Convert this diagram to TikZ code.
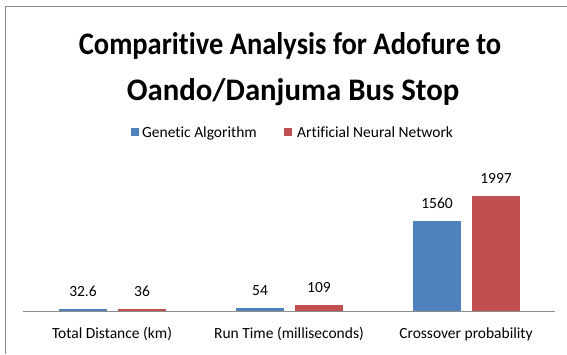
\documentclass[tikz,border=0pt]{standalone}
\usepackage{fontspec}
\setmainfont{Carlito}[Ligatures=NoCommon]
\usepackage{graphicx}
\usepackage{tikz}
\definecolor{gaBlue}{HTML}{4F81BD}
\definecolor{annRed}{HTML}{C0504D}
\definecolor{frameGray}{HTML}{8C8C8C}

\begin{document}
\begin{tikzpicture}[x=1pt, y=-1pt,
        lbl/.style={anchor=base, inner sep=0pt, font=\fontsize{15.5}{18}\selectfont},
        ttl/.style={anchor=base, inner sep=0pt, font=\fontsize{28.5}{34}\selectfont\bfseries},
        keybox/.style={minimum size=8pt, inner sep=0pt}]
    \useasboundingbox (0,0) rectangle (567,354);
    % chart frame
    \draw[frameGray, line width=1pt] (5,354) -- (5,6) -- (567,6);

    % title
    \node[ttl] (title1) at (290,54) {\scalebox{1}[1.1]{Comparitive Analysis for Adofure to}};
    \node[ttl] (title2) at (293,100) {\scalebox{1.08}[1.1]{Oando/Danjuma Bus Stop}};

    % legend
    \node[keybox, fill=gaBlue] (keyga) at (135,132) {};
    \node[lbl, anchor=base west] (keygatext) at (142,137) {Genetic Algorithm};
    \node[keybox, fill=annRed] (keyann) at (288,132) {};
    \node[lbl, anchor=base west] (keyanntext) at (297,137) {Artificial Neural Network};

    % bars
    \fill[gaBlue] (59,311) rectangle (107,309.1);
    \fill[annRed] (118,311) rectangle (166,308.9);
    \fill[gaBlue] (236,311) rectangle (284,307.9);
    \fill[annRed] (295,311) rectangle (343,304.7);
    \fill[gaBlue] (413,311) rectangle (461,221.2);
    \fill[annRed] (472,311) rectangle (520,196);

    % axis
    \draw[frameGray, line width=1pt] (23,311) -- (555,311);

    % values
    \node[lbl] (v1) at (83,296) {32.6};
    \node[lbl] (v2) at (142,296) {36};
    \node[lbl] (v3) at (260,295) {54};
    \node[lbl] (v4) at (319,292) {109};
    \node[lbl] (v5) at (437,208) {1560};
    \node[lbl] (v6) at (496,183) {1997};

    % categories
    \node[lbl] (dist) at (112,338) {Total Distance (km)};
    \node[lbl] (time) at (289,338) {Run Time (milliseconds)};
    \node[lbl] (cross) at (466,338) {Crossover probability};
\end{tikzpicture}
\end{document}
